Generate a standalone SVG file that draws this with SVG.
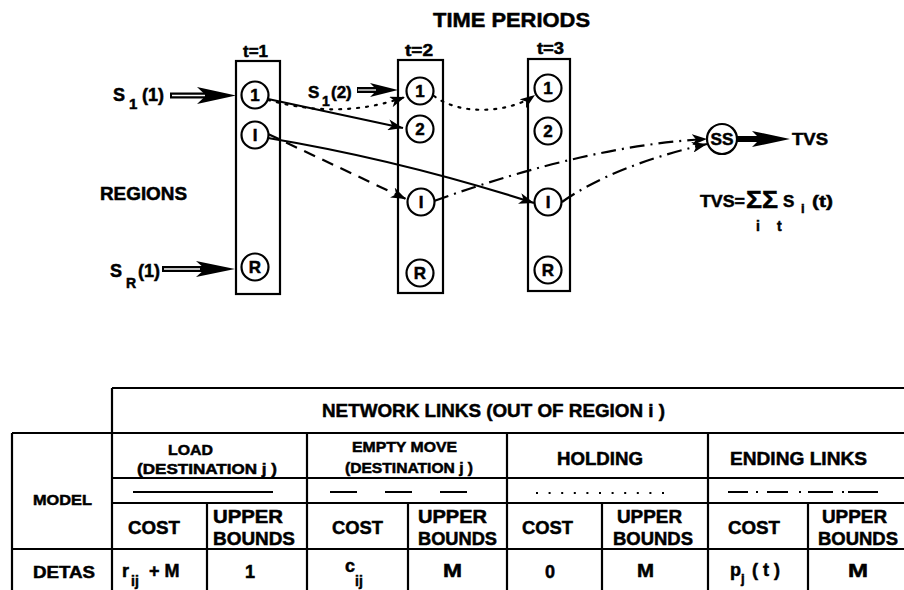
<svg xmlns="http://www.w3.org/2000/svg" width="904" height="590" viewBox="0 0 904 590">
<defs>
<style>
.t{font-family:"Liberation Sans",Arial,Helvetica,sans-serif;font-weight:bold;fill:#000;stroke:#000;stroke-width:0.5}
.box{fill:none;stroke:#000;stroke-width:2.2}
.nd{fill:#fff;stroke:#000;stroke-width:2.2}
.nl{font-family:"Liberation Sans",Arial,sans-serif;font-weight:bold;font-size:17px;text-anchor:middle;fill:#000;stroke:#000;stroke-width:0.5}
.c{fill:none;stroke:#000;stroke-width:2.2}
.load{marker-end:url(#ah)}
.empty{stroke-dasharray:12 8;marker-end:url(#ah)}
.hold{stroke-dasharray:2 7;stroke-linecap:round;marker-end:url(#ah)}
.end{stroke-dasharray:15 6 2 6;marker-end:url(#ah)}
.tl{stroke:#000;stroke-width:2.2;fill:none}
</style>
<marker id="ah" markerUnits="userSpaceOnUse" markerWidth="15" markerHeight="11" refX="15" refY="5.5" orient="auto">
<path d="M0,0 L15,5.5 L0,11 L4,5.5 z" fill="#000"/>
</marker>
</defs>
<rect width="904" height="590" fill="#fff"/>

<text class="t" x="433" y="27" font-size="21" textLength="157" lengthAdjust="spacingAndGlyphs">TIME PERIODS</text>
<text class="t" x="100" y="200" font-size="18" textLength="87" lengthAdjust="spacingAndGlyphs">REGIONS</text>

<g id="period1">
<text class="t" x="243" y="57" font-size="16" textLength="25" lengthAdjust="spacingAndGlyphs">t=1</text>
<rect class="box" x="236" y="61" width="44" height="233"/>
</g>
<g id="period2">
<text class="t" x="405" y="56" font-size="16" textLength="28" lengthAdjust="spacingAndGlyphs">t=2</text>
<rect class="box" x="398" y="60" width="45" height="233"/>
</g>
<g id="period3">
<text class="t" x="537" y="54" font-size="16" textLength="27" lengthAdjust="spacingAndGlyphs">t=3</text>
<rect class="box" x="528" y="59" width="42" height="232"/>
</g>

<g id="connectors">
<path class="c load" d="M268,99 L403,128"/>
<path class="c load" d="M268,138 Q400,160 534,203"/>
<path class="c empty" d="M268,134 L406,199"/>
<path class="c hold" d="M268,100 Q340,120 405,97"/>
<path class="c hold" d="M434,96 C460,116 510,113 535,95"/>
<path class="c end" d="M434,201 Q590,145 707,139"/>
<path class="c end" d="M562,202 Q615,165 707,144"/>
<g id="in-s11">
<line x1="170" y1="95.5" x2="210" y2="95.5" stroke="#000" stroke-width="6"/>
<line x1="172" y1="95.5" x2="205" y2="95.5" stroke="#fff" stroke-width="1.3"/>
<path d="M236,95.5 L197,87 L206,95.5 L197,104 z" fill="#000"/>
</g>
<g id="in-s12">
<line x1="357" y1="90" x2="380" y2="90" stroke="#000" stroke-width="6"/>
<line x1="358" y1="90" x2="376" y2="90" stroke="#fff" stroke-width="1.3"/>
<path d="M398,90 L370,83 L377,90 L370,97 z" fill="#000"/>
</g>
<g id="in-sr1">
<line x1="162" y1="269" x2="205" y2="269" stroke="#000" stroke-width="6"/>
<line x1="164" y1="269" x2="200" y2="269" stroke="#fff" stroke-width="1.3"/>
<path d="M235,269 L196,261 L205,269 L196,277 z" fill="#000"/>
</g>
<g id="out-tvs">
<line x1="737" y1="139" x2="760" y2="139" stroke="#000" stroke-width="6"/>
<path d="M790,139 L752,131 L760,139 L752,147 z" fill="#000"/>
</g>
</g>

<g id="n1-1"><circle class="nd" cx="255" cy="95" r="13.5"/><text class="nl" x="255" y="101">1</text></g>
<g id="n1-i"><circle class="nd" cx="255" cy="135" r="13.5"/><text class="nl" x="255" y="141">I</text></g>
<g id="n1-r"><circle class="nd" cx="255" cy="267" r="13.5"/><text class="nl" x="255" y="273">R</text></g>
<g id="n2-1"><circle class="nd" cx="420" cy="91" r="13.5"/><text class="nl" x="420" y="97">1</text></g>
<g id="n2-2"><circle class="nd" cx="420" cy="129" r="13.5"/><text class="nl" x="420" y="135">2</text></g>
<g id="n2-i"><circle class="nd" cx="421" cy="202" r="13.5"/><text class="nl" x="421" y="208">I</text></g>
<g id="n2-r"><circle class="nd" cx="420" cy="273" r="13.5"/><text class="nl" x="420" y="279">R</text></g>
<g id="n3-1"><circle class="nd" cx="548" cy="88" r="13.5"/><text class="nl" x="548" y="94">1</text></g>
<g id="n3-2"><circle class="nd" cx="548" cy="131" r="13.5"/><text class="nl" x="548" y="137">2</text></g>
<g id="n3-i"><circle class="nd" cx="548" cy="202" r="13.5"/><text class="nl" x="548" y="208">I</text></g>
<g id="n3-r"><circle class="nd" cx="548" cy="270" r="13.5"/><text class="nl" x="548" y="276">R</text></g>
<g id="n-ss"><circle class="nd" cx="722" cy="139" r="15"/><text class="nl" x="722" y="145" font-size="17" textLength="23" lengthAdjust="spacingAndGlyphs">SS</text></g>

<g id="labels">
<text class="t" font-size="18"><tspan x="113" y="101">S</tspan><tspan x="129" y="109" font-size="15">1</tspan><tspan x="142" y="101">(1)</tspan></text>
<text class="t" font-size="17"><tspan x="308" y="98">S</tspan><tspan x="322" y="106" font-size="14">1</tspan><tspan x="331" y="98">(2)</tspan></text>
<text class="t" font-size="18"><tspan x="110" y="277">S</tspan><tspan x="126" y="288" font-size="14">R</tspan><tspan x="138" y="277">(1)</tspan></text>
<text class="t" x="792" y="145" font-size="17" textLength="36" lengthAdjust="spacingAndGlyphs">TVS</text>
<text class="t" x="700" y="207" font-size="17" textLength="45" lengthAdjust="spacingAndGlyphs">TVS=</text>
<text class="t" x="746" y="208" font-size="23" textLength="32" lengthAdjust="spacingAndGlyphs">ΣΣ</text>
<text class="t" x="783" y="207" font-size="17">S</text>
<text class="t" x="801" y="213" font-size="13">i</text>
<text class="t" x="812" y="207" font-size="17" textLength="21" lengthAdjust="spacingAndGlyphs">(t)</text>
<text class="t" x="756" y="231" font-size="14">i</text>
<text class="t" x="777" y="231" font-size="14">t</text>
</g>

<g id="table">
<path class="tl" d="M112,388 H904 M12,433 H904 M112,478 H904 M112,503 H904 M12,549 H904"/>
<path class="tl" d="M12,433 V590 M112,388 V590 M307,433 V590 M507,433 V590 M708,433 V590 M207,503 V590 M408,503 V590 M602,503 V590 M808,503 V590"/>
<line x1="133" y1="492" x2="273" y2="492" stroke="#000" stroke-width="2"/>
<path d="M330,492 h27 M385,492 h27 M440,492 h27" stroke="#000" stroke-width="2"/>
<line x1="536" y1="493" x2="666" y2="493" stroke="#000" stroke-width="2.2" stroke-dasharray="2 10.6" stroke-linecap="butt"/>
<path d="M728,492 h20 M756,492 h2 M767,492 h21 M799,492 h2 M808,492 h25 M842,492 h2 M848,492 h30" stroke="#000" stroke-width="2"/>

<text class="t" x="322" y="417" font-size="19" textLength="343" lengthAdjust="spacingAndGlyphs">NETWORK LINKS (OUT OF REGION i )</text>
<text class="t" x="168" y="455" font-size="15" textLength="45" lengthAdjust="spacingAndGlyphs">LOAD</text>
<text class="t" x="137" y="474" font-size="15" textLength="140" lengthAdjust="spacingAndGlyphs">(DESTINATION  j )</text>
<text class="t" x="352" y="452" font-size="15" textLength="105" lengthAdjust="spacingAndGlyphs">EMPTY MOVE</text>
<text class="t" x="345" y="473" font-size="15" textLength="128" lengthAdjust="spacingAndGlyphs">(DESTINATION  j )</text>
<text class="t" x="557" y="465" font-size="18" textLength="86" lengthAdjust="spacingAndGlyphs">HOLDING</text>
<text class="t" x="730" y="465" font-size="18" textLength="137" lengthAdjust="spacingAndGlyphs">ENDING LINKS</text>
<text class="t" x="33" y="505" font-size="15" textLength="59" lengthAdjust="spacingAndGlyphs">MODEL</text>

<text class="t" x="128" y="534" font-size="19" textLength="52" lengthAdjust="spacingAndGlyphs">COST</text>
<text class="t" x="213" y="523" font-size="18" textLength="70" lengthAdjust="spacingAndGlyphs">UPPER</text>
<text class="t" x="213" y="545" font-size="18" textLength="82" lengthAdjust="spacingAndGlyphs">BOUNDS</text>
<text class="t" x="332" y="534" font-size="19" textLength="51" lengthAdjust="spacingAndGlyphs">COST</text>
<text class="t" x="418" y="523" font-size="18" textLength="69" lengthAdjust="spacingAndGlyphs">UPPER</text>
<text class="t" x="418" y="545" font-size="18" textLength="79" lengthAdjust="spacingAndGlyphs">BOUNDS</text>
<text class="t" x="522" y="534" font-size="19" textLength="51" lengthAdjust="spacingAndGlyphs">COST</text>
<text class="t" x="617" y="523" font-size="18" textLength="65" lengthAdjust="spacingAndGlyphs">UPPER</text>
<text class="t" x="613" y="545" font-size="18" textLength="80" lengthAdjust="spacingAndGlyphs">BOUNDS</text>
<text class="t" x="728" y="534" font-size="19" textLength="52" lengthAdjust="spacingAndGlyphs">COST</text>
<text class="t" x="822" y="523" font-size="18" textLength="65" lengthAdjust="spacingAndGlyphs">UPPER</text>
<text class="t" x="818" y="545" font-size="18" textLength="80" lengthAdjust="spacingAndGlyphs">BOUNDS</text>

<text class="t" x="33" y="578" font-size="16" textLength="62" lengthAdjust="spacingAndGlyphs">DETAS</text>
<text class="t" font-size="18"><tspan x="122" y="577">r</tspan><tspan x="131" y="586" font-size="14">ij</tspan><tspan x="149" y="577">+ M</tspan></text>
<text class="t" x="245" y="578" font-size="18">1</text>
<text class="t" font-size="18"><tspan x="345" y="572">c</tspan><tspan x="355" y="586" font-size="14">ij</tspan></text>
<text class="t" x="443" y="577" font-size="18" textLength="19" lengthAdjust="spacingAndGlyphs">M</text>
<text class="t" x="545" y="578" font-size="18">0</text>
<text class="t" x="637" y="577" font-size="18" textLength="17" lengthAdjust="spacingAndGlyphs">M</text>
<text class="t" font-size="18"><tspan x="730" y="576">p</tspan><tspan x="741" y="583" font-size="13">j</tspan><tspan x="752" y="576">( t )</tspan></text>
<text class="t" x="848" y="577" font-size="18" textLength="20" lengthAdjust="spacingAndGlyphs">M</text>
</g>
</svg>
